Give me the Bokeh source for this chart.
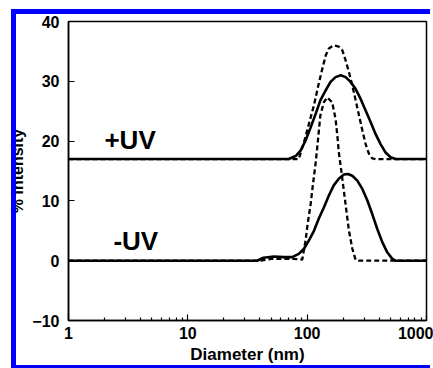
from bokeh.plotting import figure
from bokeh.models import FixedTicker, Label, InlineStyleSheet
from bokeh.embed import file_html
from bokeh.resources import INLINE

# ---- data (diameter in nm, intensity in %) ----
plus_uv_solid_d = [1, 70, 80, 88, 97, 107, 118, 129, 143, 157, 173, 191, 210, 231, 255,
                   280, 309, 340, 374, 412, 454, 500, 551, 1000]
plus_uv_solid_i = [17, 17, 17.5, 18.4, 20.1, 22.3, 24.6, 26.8, 28.5, 29.9, 30.7, 31.0, 30.7,
                   29.9, 28.7, 27.1, 25.1, 23.2, 21.2, 19.5, 18.1, 17.3, 17, 17]

plus_uv_dash_d = [1, 85, 94, 103.5, 114, 125, 134, 143, 152, 167, 184, 197, 210, 224, 239,
                  255, 272, 290, 309, 329, 351, 374, 1000]
plus_uv_dash_i = [17, 17, 19.8, 22.9, 26.0, 29.6, 32.1, 34.3, 35.5, 36.0, 35.8, 35.2, 33.5,
                  31.5, 29.3, 26.8, 24.3, 21.8, 19.5, 17.9, 17.1, 17, 17]

minus_uv_solid_d = [1, 38, 43, 52.6, 63.8, 75, 85, 94, 103.5, 114, 125, 138, 152, 167, 184,
                    203, 220, 239, 263, 290, 319, 351, 387, 426, 469, 517, 551, 1000]
minus_uv_solid_i = [0, 0, 0.5, 0.7, 0.6, 0.6, 1.15, 2.0, 3.4, 5.0, 7.0, 8.9, 10.9, 12.6, 13.7,
                    14.4, 14.5, 14.2, 13.4, 12.0, 10.1, 7.8, 5.3, 3.1, 1.4, 0.3, 0, 0]

minus_uv_dash_d = [1, 40.7, 50, 75, 91, 97, 101, 107, 112, 117.5, 121, 125, 129, 138, 147,
                   162, 173, 179, 184, 193, 203, 213, 224, 239, 255, 272, 1000]
minus_uv_dash_i = [0, 0, 0.3, 0.3, 0.2, 3.4, 6.2, 9.5, 12.9, 16.2, 18.6, 21.5, 24.3, 26.5, 27.3,
                   26.5, 23.7, 20.9, 18.2, 15.1, 11.7, 8.4, 5.0, 2.0, 0.1, 0, 0]

x_ticks = [1, 10, 100, 1000]
x_tick_labels = ["1", "10", "100", "1000"]
x_minor = [2, 3, 4, 5, 6, 7, 8, 9, 20, 30, 40, 50, 60, 70, 80, 90,
           200, 300, 400, 500, 600, 700, 800, 900]
y_ticks = [-10, 0, 10, 20, 30, 40]
x_title = "Diameter (nm)"
y_title = "% Intensity"

FONT = "Liberation Sans"

# blue border of the (cropped) original figure, drawn over the plot with CSS
blue_frame = InlineStyleSheet(css="""
:host { position: relative; overflow: hidden; }
:host::before {
  content: "";
  position: absolute;
  left: 11px; top: 9px; width: 5px; height: 359px;
  background-color: #0000ff;
  pointer-events: none;
  z-index: 100;
}
:host::after {
  content: "";
  position: absolute;
  box-sizing: border-box;
  left: 11px; top: 9px; width: 419px; height: 359px;
  border-top: 5px solid #0000ff;
  border-bottom: 3px solid #0000ff;
  border-left: 0px none;
  border-right: 0px none;
  background: transparent;
  pointer-events: none;
  z-index: 100;
}
""")

p = figure(width=433, height=368, x_axis_type="log",
           x_range=(1, 1000), y_range=(-10, 40),
           output_backend="svg", toolbar_location=None,
           min_border_left=68, min_border_right=7,
           min_border_top=21, min_border_bottom=48,
           stylesheets=[blue_frame])

p.background_fill_color = "white"
p.border_fill_color = "white"
p.outline_line_color = "black"
p.outline_line_width = 1.5
p.grid.visible = False

xa = p.xaxis[0]
xa.ticker = FixedTicker(ticks=x_ticks, minor_ticks=x_minor)
xa.major_label_overrides = {t: l for t, l in zip(x_ticks, x_tick_labels)}
xa.axis_label = x_title
ya = p.yaxis[0]
ya.ticker = FixedTicker(ticks=y_ticks, minor_ticks=[])
ya.axis_label = y_title

for ax in (xa, ya):
    ax.axis_line_width = 1.5
    ax.axis_line_color = "black"
    ax.major_tick_in = 6
    ax.major_tick_out = 0
    ax.minor_tick_in = 3
    ax.minor_tick_out = 0
    ax.major_tick_line_width = 1.2
    ax.minor_tick_line_width = 1.2
    ax.major_label_text_font = FONT
    ax.major_label_text_font_style = "bold"
    ax.major_label_text_font_size = "16px"
    ax.major_label_text_color = "black"
    ax.axis_label_text_font = FONT
    ax.axis_label_text_font_style = "bold"
    ax.axis_label_text_color = "black"

xa.axis_label_text_font_size = "17px"
ya.axis_label_text_font_size = "16px"
xa.major_label_standoff = 6
xa.axis_label_standoff = 3
ya.major_label_standoff = 9
ya.axis_label_standoff = 3

# curves
p.line(plus_uv_dash_d, plus_uv_dash_i, line_color="black", line_width=2.3, line_dash="5 3")
p.line(minus_uv_dash_d, minus_uv_dash_i, line_color="black", line_width=2.3, line_dash="5 3")
p.line(plus_uv_solid_d, plus_uv_solid_i, line_color="black", line_width=2.6)
p.line(minus_uv_solid_d, minus_uv_solid_i, line_color="black", line_width=2.6)

# series labels
for txt, xx, yy in (("+UV", 2.0, 20.2), ("-UV", 2.38, 3.35)):
    p.add_layout(Label(x=xx, y=yy, text=txt, text_font=FONT, text_font_style="bold",
                       text_font_size="26px", text_color="black",
                       text_align="left", text_baseline="alphabetic"))

open("out.html", "w").write(file_html(p, INLINE))
